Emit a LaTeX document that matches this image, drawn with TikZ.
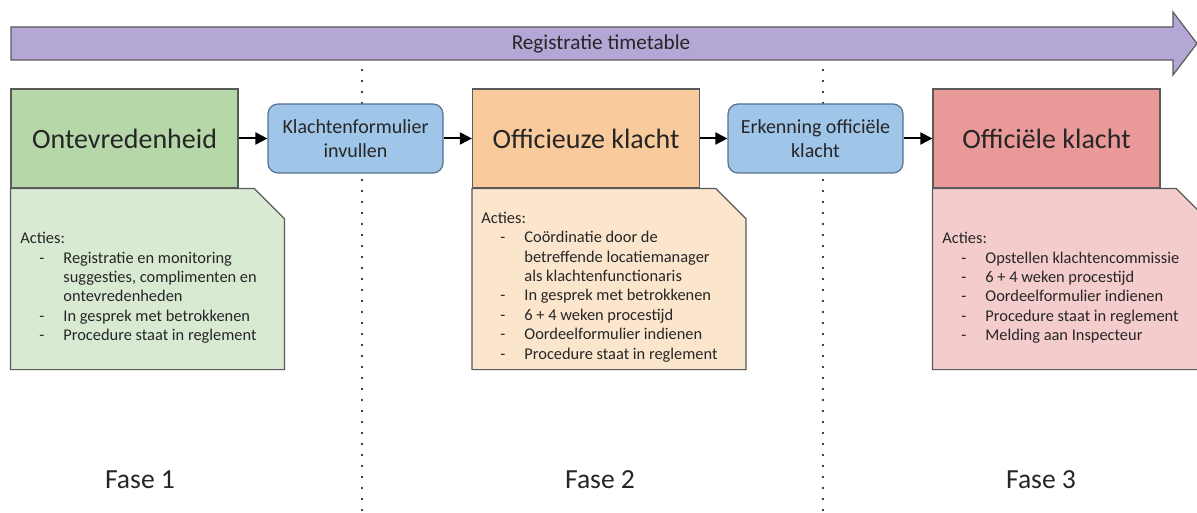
\documentclass[tikz,border=0pt]{standalone}
\usepackage{fontspec}
\setmainfont{Carlito}
\usetikzlibrary{arrows.meta}

\definecolor{paars}{HTML}{B4A7D6}
\definecolor{groen}{HTML}{B6D7A8}
\definecolor{groenlicht}{HTML}{D9EAD3}
\definecolor{oranje}{HTML}{F9CB9C}
\definecolor{oranjelicht}{HTML}{FCE5CD}
\definecolor{rood}{HTML}{EA9999}
\definecolor{roodlicht}{HTML}{F4CCCC}
\definecolor{blauw}{HTML}{9FC5E8}
\definecolor{rand}{HTML}{5A5A5A}
\definecolor{blauwrand}{HTML}{56728F}
\definecolor{tekst}{HTML}{262626}

% bullet lines in the notes:
\newcommand{\streep}{\makebox[21.5pt][l]{\hspace*{9.5pt}-}}
\newcommand{\verder}{\hspace*{21.5pt}}

\begin{document}
\begin{tikzpicture}[x = 0.5pt, y = -0.5pt]
    \tikzstyle{kop} = [draw = rand, line width = .6pt, minimum width = 113.5pt, minimum height = 49.5pt, inner sep = 0, text = tekst, font = \fontsize{14}{17}\selectfont];
    \tikzstyle{stap} = [draw = blauwrand, line width = .6pt, fill = blauw, rounded corners = 5pt, minimum width = 87.5pt, minimum height = 34.5pt, inner sep = 0, align = center, text = tekst, font = \fontsize{10}{11.8}\selectfont];
    \tikzstyle{notitie} = [draw = rand, line width = .6pt];
    \tikzstyle{acties} = [anchor = west, align = left, inner sep = 0, text = tekst, font = \fontsize{8.2}{9.7}\selectfont];
    \tikzstyle{fase} = [inner sep = 0, text = tekst, font = \fontsize{13.8}{16}\selectfont];
    \tikzstyle{pijl} = [line width = 1pt, -{Triangle[length = 6pt, width = 6pt]}];
    \tikzstyle{stippel} = [line width = 1.1pt, line cap = round, dash pattern = on 0pt off 5.5pt];
    \useasboundingbox (0,0) rectangle (1197,513);
    % timetable:
    \filldraw[draw = rand, line width = .6pt, fill = paars] (11,27) -- (1173,27) -- (1173,12) -- (1197,43.5) -- (1173,75) -- (1173,60) -- (11,60) -- cycle;
    \node[inner sep = 0, text = tekst, font = \fontsize{10.6}{12}\selectfont] (tijdlijn) at (601,44) {Registratie timetable};
    % separators:
    \draw[stippel] (362,70) -- (362,513);
    \draw[stippel] (823,70) -- (823,513);
    % phases:
    \node[kop, fill = groen] (ontevreden) at (124.5,138.5) {Ontevredenheid};
    \node[kop, fill = oranje] (officieus) at (586,138.5) {Officieuze klacht};
    \node[kop, fill = rood] (officieel) at (1046.5,138.5) {Officiële klacht};
    \node[stap] (formulier) at (355.5,138.5) {Klachtenformulier\\invullen};
    \node[stap] (erkenning) at (815.5,138.5) {Erkenning officiële\\klacht};
    % arrows:
    \draw[pijl] (ontevreden) -- (formulier);
    \draw[pijl] (formulier) -- (officieus);
    \draw[pijl] (officieus) -- (erkenning);
    \draw[pijl] (erkenning) -- (officieel);
    % notes:
    \filldraw[notitie, fill = groenlicht] (ontevreden.south west) -- ++(244,0) -- ++(30,30) -- ++(0,151) -- ++(-274,0) -- cycle;
    \filldraw[notitie, fill = oranjelicht] (officieus.south west) -- ++(244,0) -- ++(30,30) -- ++(0,151) -- ++(-274,0) -- cycle;
    \filldraw[notitie, fill = roodlicht] (officieel.south west) -- ++(244,0) -- ++(30,30) -- ++(0,151) -- ++(-274,0) -- cycle;
    \node[acties] (acties1) at (20,288) {Acties:\\
        \streep Registratie en monitoring\\
        \verder suggesties, complimenten en\\
        \verder ontevredenheden\\
        \streep In gesprek met betrokkenen\\
        \streep Procedure staat in reglement};
    \node[acties] (acties2) at (481,287) {Acties:\\
        \streep Coördinatie door de\\
        \verder betreffende locatiemanager\\
        \verder als klachtenfunctionaris\\
        \streep In gesprek met betrokkenen\\
        \streep 6 + 4 weken procestijd\\
        \streep Oordeelformulier indienen\\
        \streep Procedure staat in reglement};
    \node[acties] (acties3) at (942,288) {Acties:\\
        \streep Opstellen klachtencommissie\\
        \streep 6 + 4 weken procestijd\\
        \streep Oordeelformulier indienen\\
        \streep Procedure staat in reglement\\
        \streep Melding aan Inspecteur};
    % labels:
    \node[fase] (fase1) at (140,480) {Fase 1};
    \node[fase] (fase2) at (600,480) {Fase 2};
    \node[fase] (fase3) at (1041,480) {Fase 3};
\end{tikzpicture}
\end{document}
